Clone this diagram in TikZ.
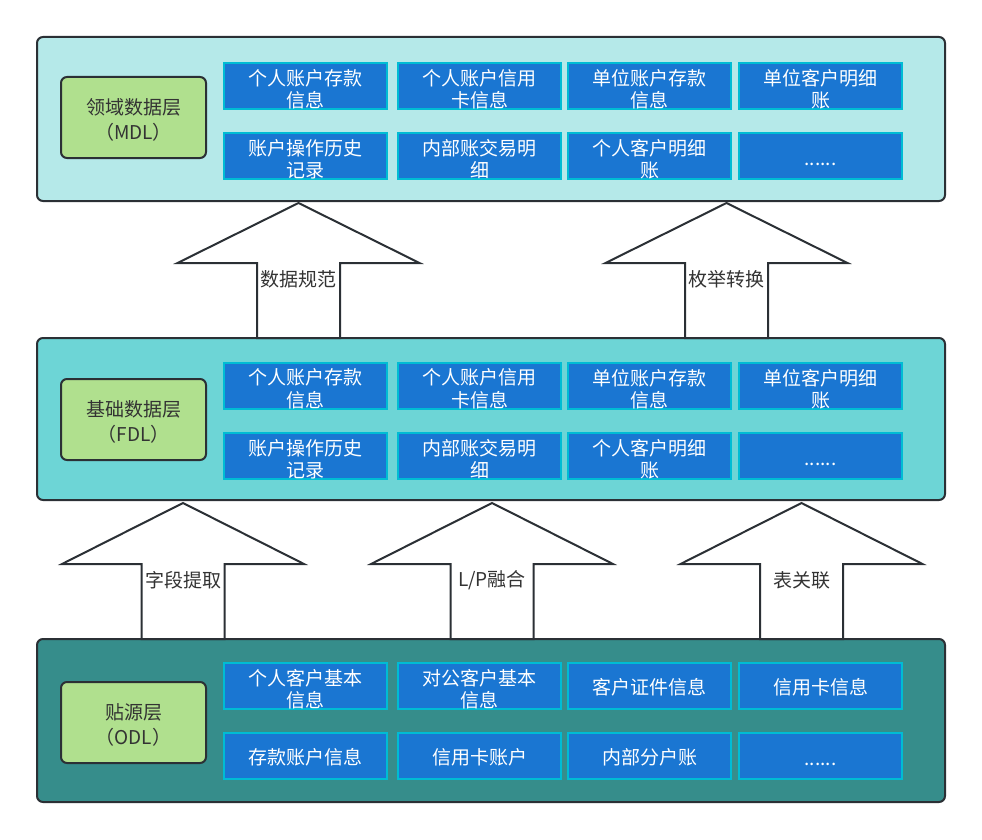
\documentclass[tikz,border=0pt]{standalone}
\usepackage{fontspec}
\setmainfont{Noto Sans CJK SC}
\definecolor{mdlc}{HTML}{B5E9E9}
\definecolor{fdlc}{HTML}{6DD5D6}
\definecolor{odlc}{HTML}{368D8B}
\definecolor{labc}{HTML}{B0E08E}
\definecolor{itemc}{HTML}{1A76D2}
\definecolor{itemb}{HTML}{00BCD4}
\definecolor{edgec}{HTML}{2B3035}
\definecolor{txtc}{HTML}{333333}
% \itm{name}{position}{yshift}{text}
\newcommand{\itm}[4]{\node[item] (#1) at (#2) {}; \node[itemtxt] at ([yshift=#3]#1.center) {#4};}
\newcommand{\lyl}[3]{\node[lab] (#1) at (#2) {}; \node[labtxt] at ([yshift=-2.5pt]#1.center) {#3};}
\begin{document}
\begin{tikzpicture}[x=1pt,y=-1pt,
  layer/.style={draw=edgec,line width=2pt,rounded corners=6pt,minimum width=908pt,inner sep=0pt},
  lab/.style={draw=edgec,line width=2pt,rounded corners=6pt,fill=labc,minimum width=145pt,minimum height=81pt,inner sep=0pt},
  labtxt/.style={align=center,text=txtc,font=\fontsize{19}{25}\selectfont,inner sep=0pt},
  item/.style={draw=itemb,line width=2pt,fill=itemc,minimum width=163pt,minimum height=46pt,inner sep=0pt},
  itemtxt/.style={align=center,text=white,font=\fontsize{19}{22.5}\selectfont,inner sep=0pt},
  blockarrow/.style={draw=edgec,line width=2pt,fill=white,line join=miter},
  alab/.style={text=txtc,font=\fontsize{19}{22}\selectfont,inner sep=0pt}
]
\useasboundingbox (0,0) rectangle (982,840);

% layers
\node[layer,fill=mdlc,minimum height=164pt] (mdl) at (491,119) {};
\node[layer,fill=fdlc,minimum height=162pt] (fdl) at (491,419) {};
\node[layer,fill=odlc,minimum height=163pt] (odl) at (491,720.5) {};

% layer labels
\lyl{mdllab}{133.5,117.5}{领域数据层\\（MDL）}
\lyl{fdllab}{133.5,419.5}{基础数据层\\（FDL）}
\lyl{odllab}{133.5,722.5}{贴源层\\（ODL）}

% MDL items
\itm{m11}{305.5,85.8}{-3.5pt}{个人账户存款\\信息}
\itm{m12}{479.5,85.8}{-3.5pt}{个人账户信用\\卡信息}
\itm{m13}{649.5,85.8}{-3.5pt}{单位账户存款\\信息}
\itm{m14}{820.5,85.8}{-3.5pt}{单位客户明细\\账}
\itm{m21}{305.5,155.8}{-3.5pt}{账户操作历史\\记录}
\itm{m22}{479.5,155.8}{-3.5pt}{内部账交易明\\细}
\itm{m23}{649.5,155.8}{-3.5pt}{个人客户明细\\账}
\itm{m24}{820.5,155.8}{-9pt}{......}

% FDL items
\itm{f11}{305.5,385.5}{-3.5pt}{个人账户存款\\信息}
\itm{f12}{479.5,385.5}{-3.5pt}{个人账户信用\\卡信息}
\itm{f13}{649.5,385.5}{-3.5pt}{单位账户存款\\信息}
\itm{f14}{820.5,385.5}{-3.5pt}{单位客户明细\\账}
\itm{f21}{305.5,455.5}{-3.5pt}{账户操作历史\\记录}
\itm{f22}{479.5,455.5}{-3.5pt}{内部账交易明\\细}
\itm{f23}{649.5,455.5}{-3.5pt}{个人客户明细\\账}
\itm{f24}{820.5,455.5}{-9pt}{......}

% ODL items
\itm{o11}{305.5,685.7}{-3.5pt}{个人客户基本\\信息}
\itm{o12}{479.5,685.7}{-3.5pt}{对公客户基本\\信息}
\itm{o13}{649.5,685.7}{-2pt}{客户证件信息}
\itm{o14}{820.5,685.7}{-2pt}{信用卡信息}
\itm{o21}{305.5,755.7}{-2pt}{存款账户信息}
\itm{o22}{479.5,755.7}{-2pt}{信用卡账户}
\itm{o23}{649.5,755.7}{-2pt}{内部分户账}
\itm{o24}{820.5,755.7}{-9pt}{......}

% block arrows FDL -> MDL
\foreach \cx/\nm/\txt in {298.5/a1/{数据规范}, 726.5/a2/{枚举转换}}{
  \draw[blockarrow] (\cx,203) -- (\cx+121,263) -- (\cx+41.5,263) -- (\cx+41.5,338)
    -- (\cx-41.5,338) -- (\cx-41.5,263) -- (\cx-121,263) -- cycle;
  \node[alab] (\nm) at (\cx,279) {\txt};
}
% block arrows ODL -> FDL
\foreach \cx/\nm/\txt in {183/b1/{字段提取}, 492/b2/{L/P融合}, 801.5/b3/{表关联}}{
  \draw[blockarrow] (\cx,503) -- (\cx+121,564) -- (\cx+41.5,564) -- (\cx+41.5,639)
    -- (\cx-41.5,639) -- (\cx-41.5,564) -- (\cx-121,564) -- cycle;
  \node[alab] (\nm) at (\cx,580) {\txt};
}
\end{tikzpicture}
\end{document}
